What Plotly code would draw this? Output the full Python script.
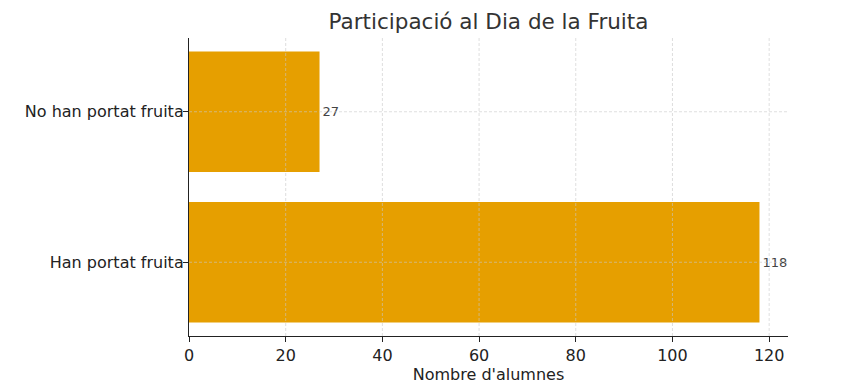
import plotly.graph_objects as go

categories = ["Han portat fruita", "No han portat fruita"]
values = [118, 27]
x_ticks = [0, 20, 40, 60, 80, 100, 120]
title = "Participació al Dia de la Fruita"
x_title = "Nombre d'alumnes"

GRID = "rgba(200,200,200,0.6)"
DASH = "3px,2px"

fig = go.Figure()
fig.add_trace(go.Bar(
    y=categories, x=values, orientation="h",
    marker=dict(color="#E69F00", line=dict(width=0)),
    width=0.8,
    text=[str(v) for v in values], textposition="outside",
    textfont=dict(family="DejaVu Sans", size=13, color="#444444"),
    cliponaxis=False,
))

# dashed grid lines drawn above the bars (as in the reference)
for t in x_ticks[1:]:
    fig.add_shape(type="line", xref="x", yref="paper", x0=t, x1=t, y0=0, y1=1,
                  line=dict(color=GRID, width=1, dash=DASH), layer="above")
for c in categories:
    fig.add_shape(type="line", xref="paper", yref="y", x0=0, x1=1, y0=c, y1=c,
                  line=dict(color=GRID, width=1, dash=DASH), layer="above")

# page body has an 8px margin, so the figure is sized/placed to compensate
fig.update_layout(
    width=837, height=377,
    margin=dict(l=181, r=57, t=30, b=49, autoexpand=False),
    paper_bgcolor="white", plot_bgcolor="white",
    title=dict(text=title, xref="paper", x=0.5, xanchor="center", y=0.963, yanchor="middle",
               font=dict(family="DejaVu Sans", size=21.5, color="#333333")),
    font=dict(family="DejaVu Sans", color="#222222"),
    showlegend=False,
)
fig.update_xaxes(
    range=[0, 123.9], tickvals=x_ticks, ticktext=[str(t) for t in x_ticks],
    showline=True, linecolor="#222222", linewidth=1.2,
    ticks="outside", ticklen=5, tickcolor="#222222",
    tickfont=dict(size=16, color="#222222"),
    showgrid=False, zeroline=False, automargin=False,
    title=dict(text=x_title, font=dict(size=16, color="#222222"), standoff=4),
)
fig.update_yaxes(
    range=[-0.49, 1.49],
    showline=True, linecolor="#222222", linewidth=1.2,
    ticks="outside", ticklen=5, tickcolor="#222222",
    tickfont=dict(size=16, color="#222222"), ticklabelstandoff=-4,
    showgrid=False, zeroline=False, automargin=False,
)

fig.write_html("out.html")
